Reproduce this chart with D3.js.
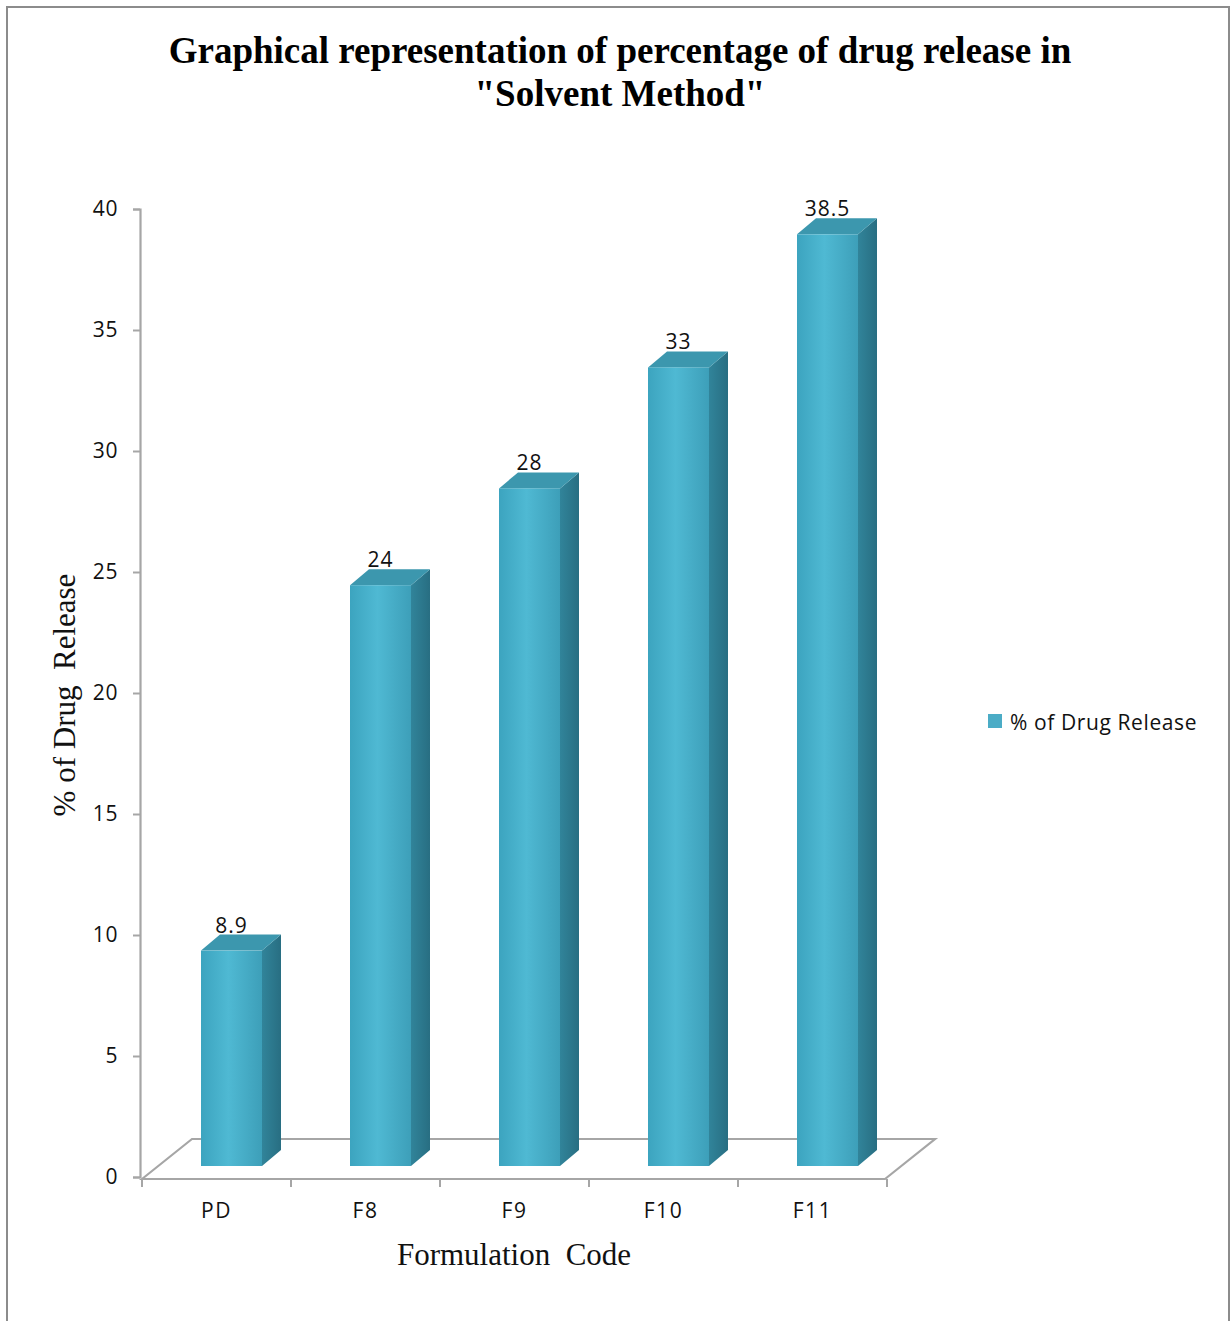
<!DOCTYPE html>
<html><head><meta charset="utf-8">
<script src="https://cdn.jsdelivr.net/npm/d3@7"></script>
<style>body{margin:0;background:#fff}svg{display:block}</style>
</head><body>
<script>
const categories = ["PD","F8","F9","F10","F11"];
const values = [8.9, 24, 28, 33, 38.5];
const yTicks = [0,5,10,15,20,25,30,35,40];
const seriesName = "% of Drug Release";
const titleLines = ["Graphical representation of percentage of drug release in", "\"Solvent Method\""];
const xTitle = "Formulation  Code";
const yTitle = "% of Drug  Release";

const W = 1230, H = 1321;
const svg = d3.select("body").append("svg").attr("width", W).attr("height", H);
const defs = svg.append("defs");
const gf = defs.append("linearGradient").attr("id","front").attr("x1","0").attr("x2","1").attr("y1","0").attr("y2","0");
gf.append("stop").attr("offset","0").attr("stop-color","#3ca4bf");
gf.append("stop").attr("offset","0.45").attr("stop-color","#4fb9d3");
gf.append("stop").attr("offset","1").attr("stop-color","#3d9fb9");
const gs = defs.append("linearGradient").attr("id","side").attr("x1","0").attr("x2","1").attr("y1","0").attr("y2","0");
gs.append("stop").attr("offset","0").attr("stop-color","#31849a");
gs.append("stop").attr("offset","1").attr("stop-color","#286e82");

// frame
svg.append("rect").attr("x",7).attr("y",7).attr("width",1222).attr("height",1330)
  .attr("fill","none").attr("stroke","#8c8c8c").attr("stroke-width",2);

// scales
const y = d3.scaleLinear().domain([0,40]).range([1177, 209]);
const x = d3.scaleBand().domain(categories).range([142, 887]).padding(0);
const dx = 19, dy = 16, barOff = 11, barIn = 59, barW = 61;
const sans = "'Open Sans', sans-serif";

// floor
const floorY = y(0) + 2, backY = floorY - 40, fdx = 50;
const floor = svg.append("g").attr("stroke","#a6a6a6").attr("stroke-width",2.2).attr("fill","none");
floor.append("path").attr("d",
  `M${x.range()[0]},${floorY} L${x.range()[0]+fdx},${backY} L${x.range()[1]+fdx-2},${backY} L${x.range()[1]-2},${floorY} Z`);

// y axis
const yAxis = d3.axisLeft(y).tickValues(yTicks).tickSize(7).tickPadding(15);
const ya = svg.append("g").attr("transform","translate(140,0)").call(yAxis);
ya.select(".domain").attr("stroke","#a6a6a6").attr("stroke-width",2.2);
ya.selectAll(".tick line").attr("stroke","#a6a6a6").attr("stroke-width",2);
ya.selectAll(".tick text").attr("font-family",sans).attr("font-size",21).attr("letter-spacing",0.6).attr("fill","#111");

// x axis ticks
const xa = svg.append("g").attr("transform",`translate(0,${floorY})`)
  .call(d3.axisBottom(x).tickSize(0).tickPadding(24));
xa.select(".domain").remove();
xa.selectAll(".tick text").attr("font-family",sans).attr("font-size",21).attr("letter-spacing",1.6).attr("fill","#111");
const xt = categories.map(c => x(c)).concat([x.range()[1]]);
svg.append("g").selectAll("line").data(xt).join("line")
  .attr("x1",d=>d).attr("x2",d=>d).attr("y1",floorY).attr("y2",floorY+8)
  .attr("stroke","#a6a6a6").attr("stroke-width",2);

// bars
const bars = svg.append("g").selectAll("g").data(categories.map((c,i)=>({c,v:values[i]}))).join("g");
bars.each(function(d){
  const g = d3.select(this);
  const x0 = x(d.c) + barIn, x1 = x0 + barW;
  const yb = y(0) - barOff, yt = y(d.v) - barOff;
  g.append("path").attr("d",`M${x1},${yb} L${x1+dx},${yb-dy} L${x1+dx},${yt-dy} L${x1},${yt} Z`).attr("fill","url(#side)");
  g.append("path").attr("d",`M${x0},${yt} L${x0+dx},${yt-dy} L${x1+dx},${yt-dy} L${x1},${yt} Z`).attr("fill","#3c97ae");
  g.append("rect").attr("x",x0).attr("y",yt).attr("width",barW).attr("height",yb-yt).attr("fill","url(#front)");
  g.append("text").attr("x",x0 + barW/2).attr("y",yt-dy-2).attr("text-anchor","middle")
    .attr("font-family",sans).attr("font-size",21).attr("letter-spacing",1).attr("fill","#111").text(d.v);
});

// title
svg.append("g").selectAll("text").data(titleLines).join("text")
  .attr("x",620).attr("y",(d,i)=>63+i*43).attr("text-anchor","middle")
  .attr("font-family","'Liberation Serif', 'Times New Roman', serif").attr("font-weight","bold")
  .attr("font-size",37).attr("fill","#000").text(d=>d);

// axis titles
svg.append("text").attr("transform","translate(75,695) rotate(-90)").attr("text-anchor","middle").attr("xml:space","preserve")
  .attr("font-family","'Liberation Serif', serif").attr("font-size",31).attr("fill","#111").text(yTitle);
svg.append("text").attr("x",514).attr("y",1265).attr("text-anchor","middle").attr("xml:space","preserve")
  .attr("font-family","'Liberation Serif', serif").attr("font-size",31).attr("fill","#111").text(xTitle);

// legend
svg.append("rect").attr("x",988).attr("y",714).attr("width",14).attr("height",14).attr("fill","#4bacc6");
svg.append("text").attr("x",1010).attr("y",730).attr("font-family",sans)
  .attr("font-size",21).attr("letter-spacing",0.6).attr("fill","#111").text(seriesName);
</script>
</body></html>
